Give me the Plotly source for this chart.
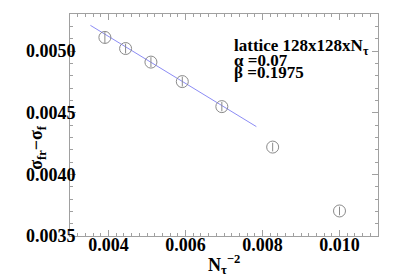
import plotly.graph_objects as go

# data
nt_inv2 = [0.003906, 0.004444, 0.005102, 0.005917, 0.006944, 0.008264, 0.010000]
sigma_diff = [0.00511, 0.00502, 0.00491, 0.004752, 0.004549, 0.004221, 0.003703]
sigma_err = [0.000048, 0.00004, 0.00004, 0.00004, 0.000038, 0.000035, 0.000035]
fit_x = [0.00353, 0.00784]
fit_y = [0.005208, 0.004387]

x_ticks = [0.004, 0.006, 0.008, 0.010]
x_labels = ["0.004", "0.006", "0.008", "0.010"]
y_ticks = [0.0035, 0.0040, 0.0045, 0.0050]
y_labels = ["0.0035", "0.0040", "0.0045", "0.0050"]

FONT = "Liberation Serif"
GRAY = "#a0a0a0"

fig = go.Figure()
fig.add_trace(go.Scatter(x=fit_x, y=fit_y, mode="lines",
                         line=dict(color="#8c8cf5", width=1), showlegend=False))
fig.add_trace(go.Scatter(x=nt_inv2, y=sigma_diff, mode="markers",
                         marker=dict(symbol="circle-open", size=12, color="#8a8a8a",
                                     line=dict(width=1, color="#8a8a8a")),
                         error_y=dict(type="data", array=sigma_err, visible=True,
                                      color="#8a8a8a", thickness=1, width=0),
                         showlegend=False))

axis_common = dict(showgrid=False, zeroline=False, showline=True, linecolor=GRAY,
                   linewidth=1, mirror="ticks", ticks="inside", tickcolor=GRAY,
                   ticklen=6, tickwidth=1, automargin=False,
                   tickfont=dict(family=FONT, size=18, color="black", weight="bold"))

fig.update_xaxes(range=[0.003, 0.011], tickvals=x_ticks, ticktext=x_labels,
                 minor=dict(dtick=0.0002, ticks="inside", ticklen=3, tickcolor=GRAY),
                 ticklabelstandoff=-8,
                 **axis_common)
fig.update_yaxes(range=[0.0035, 0.0053], tickvals=y_ticks, ticktext=y_labels,
                 minor=dict(dtick=0.0001, ticks="inside", ticklen=3, tickcolor=GRAY),
                 ticklabelstandoff=-10,
                 **axis_common)

fig.add_annotation(text="σ<sub>fr</sub>−σ<sub>f</sub>", textangle=-90,
                   xref="paper", yref="paper", x=-0.105, y=0.40, showarrow=False,
                   xanchor="center", yanchor="middle",
                   font=dict(family=FONT, size=18, color="black", weight="bold"))

fig.add_annotation(text="N<sub>τ</sub><sup>−2</sup>",
                   xref="paper", yref="paper", x=0.5, y=-0.13, showarrow=False,
                   xanchor="center", yanchor="middle",
                   font=dict(family=FONT, size=18, color="black", weight="bold"))

ann_font = dict(family=FONT, size=17, color="black", weight="bold")
for txt, yy in [("lattice 128x128xN<sub>τ</sub>", 0.85),
                ("α =0.07", 0.79),
                ("β =0.1975", 0.735)]:
    fig.add_annotation(text=txt, xref="paper", yref="paper", x=0.525, y=yy,
                       xanchor="left", yanchor="middle", showarrow=False,
                       font=ann_font)

# page body has an 8px default margin; size the figure so the plot area lands
# at x 70..378, y 14..236 of the 393x278 window
fig.update_layout(width=385, height=270, margin=dict(l=62, r=15, t=6, b=42),
                  paper_bgcolor="white", plot_bgcolor="white")

fig.write_html("out.html")
